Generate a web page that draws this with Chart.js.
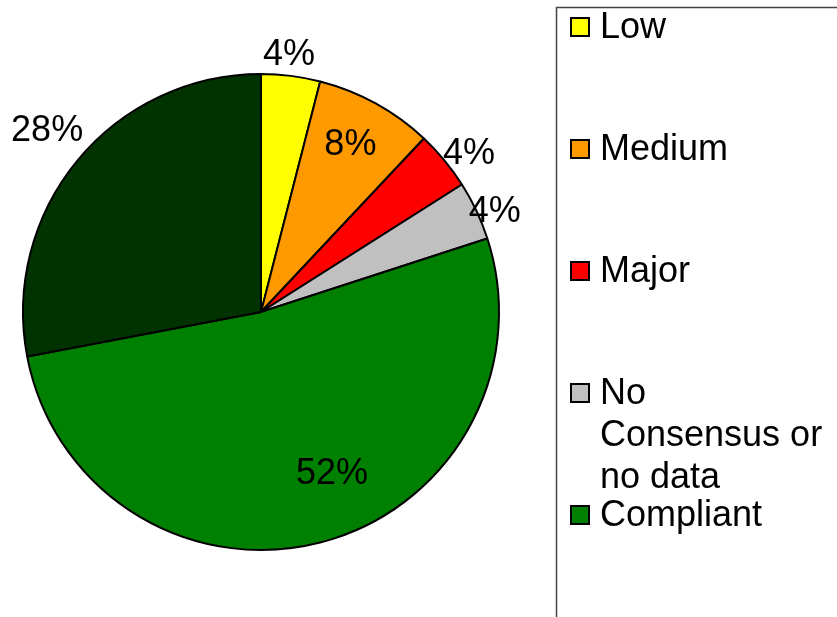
<!DOCTYPE html>
<html>
<head>
<meta charset="utf-8">
<script src="https://cdn.jsdelivr.net/npm/chart.js@4/dist/chart.umd.min.js"></script>
<style>
  html, body { margin: 0; padding: 0; background: #fff; }
  #wrap { width: 837px; height: 617px; position: relative; }
</style>
</head>
<body>
<div id="wrap"><canvas id="pie" width="837" height="617"></canvas></div>
<script>
// Chart data
const categories = ['Low', 'Medium', 'Major', 'No Consensus or no data', 'Compliant', ''];
const shares = [4, 8, 4, 4, 52, 28];
const sliceColors = ['#ffff00', '#ff9900', '#ff0000', '#c0c0c0', '#008000', '#003300'];

// where each percentage sits: [radius factor, angle shift in degrees]
const labelPlacement = [[1.09, -1], [0.8, -0.8], [1.1, 2.2], [1.07, 1.8], [0.74, -9.4], [1.18, 0.8]];

const FONT = '36px "Liberation Sans", Arial, sans-serif';

// Percent labels around / inside the slices
const percentLabels = {
    id: 'percentLabels',
    afterDatasetsDraw(chart) {
        const ctx = chart.ctx;
        const meta = chart.getDatasetMeta(0);
        const total = shares.reduce((a, b) => a + b, 0);
        ctx.save();
        ctx.font = FONT;
        ctx.fillStyle = '#000';
        ctx.textAlign = 'center';
        ctx.textBaseline = 'middle';
        meta.data.forEach((arc, i) => {
            const p = arc.getProps(['x', 'y', 'startAngle', 'endAngle', 'outerRadius'], true);
            const mid = (p.startAngle + p.endAngle) / 2 + labelPlacement[i][1] * Math.PI / 180;
            const r = p.outerRadius * labelPlacement[i][0];
            const txt = Math.round(shares[i] / total * 100) + '%';
            ctx.fillText(txt, p.x + Math.cos(mid) * r, p.y + Math.sin(mid) * r + 1);
        });
        ctx.restore();
    }
};

// Boxed legend on the right
const sideLegend = {
    id: 'sideLegend',
    afterDraw(chart) {
        const ctx = chart.ctx;
        const left = 556.5, top = 7.5;
        ctx.save();
        ctx.strokeStyle = '#444';
        ctx.lineWidth = 1.5;
        ctx.beginPath();
        ctx.moveTo(chart.width + 2, top);
        ctx.lineTo(left, top);
        ctx.lineTo(left, chart.height + 2);
        ctx.stroke();

        ctx.font = FONT;
        ctx.textBaseline = 'middle';
        ctx.textAlign = 'left';
        const textX = 600, maxW = 232, lineH = 42, step = 122;
        categories.forEach((name, i) => {
            if (!name) return;
            const cy = 27 + i * step;
            ctx.fillStyle = sliceColors[i];
            ctx.fillRect(571, cy - 9, 18, 18);
            ctx.strokeStyle = '#000';
            ctx.lineWidth = 2;
            ctx.strokeRect(571, cy - 9, 18, 18);
            // wrap words
            const words = name.split(' ');
            const lines = [];
            let cur = '';
            words.forEach(w => {
                const test = cur ? cur + ' ' + w : w;
                if (ctx.measureText(test).width > maxW && cur) {
                    lines.push(cur);
                    cur = w;
                } else {
                    cur = test;
                }
            });
            lines.push(cur);
            ctx.fillStyle = '#000';
            lines.forEach((ln, k) => ctx.fillText(ln, textX, cy + 1 + k * lineH));
        });
        ctx.restore();
    }
};

const ctx = document.getElementById('pie').getContext('2d');
new Chart(ctx, {
    type: 'pie',
    data: {
        labels: categories,
        datasets: [{
            data: shares,
            backgroundColor: sliceColors,
            borderColor: '#000',
            borderWidth: 2,
            borderAlign: 'center'
        }]
    },
    options: {
        responsive: false,
        animation: false,
        layout: {
            padding: { left: 22, right: 337, top: 73, bottom: 66 }
        },
        plugins: {
            legend: { display: false },
            tooltip: { enabled: false }
        }
    },
    plugins: [percentLabels, sideLegend]
});
</script>
</body>
</html>
